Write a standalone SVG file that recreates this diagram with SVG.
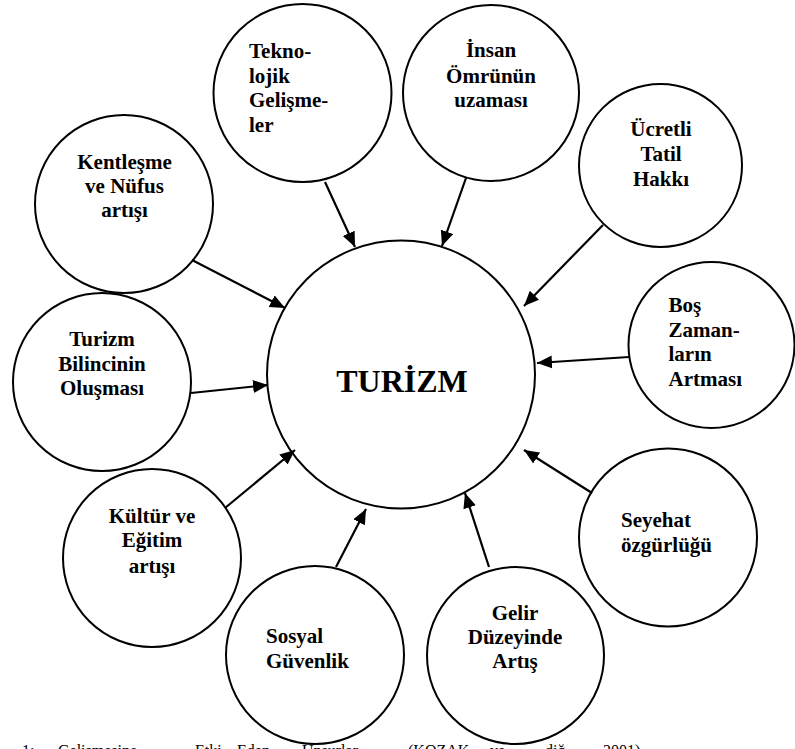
<svg xmlns="http://www.w3.org/2000/svg" width="795" height="749" viewBox="0 0 795 749">
<style>
.c{fill:#fff;stroke:#000;stroke-width:2}
.t{font-family:"Liberation Serif","Times New Roman",serif;font-weight:bold;font-size:21px;fill:#000}
.m{text-anchor:middle}
.e{stroke:#000;stroke-width:2.2;fill:none;marker-end:url(#ah)}
.cap{font-family:"Liberation Serif","Times New Roman",serif;font-size:16px;fill:#000}
</style>
<defs>
<marker id="ah" markerUnits="userSpaceOnUse" markerWidth="16" markerHeight="14" refX="15" refY="6.5" orient="auto">
<path d="M0,0 L15,6.5 L0,13 z" fill="#000"/>
</marker>
</defs>
<rect width="795" height="749" fill="#fff"/>
<g id="turizm"><circle class="c" cx="401" cy="374.5" r="134"/><text class="t m" x="402" y="392" style="font-size:32px">TURİZM</text></g>
<g id="teknoloji"><circle class="c" cx="302.5" cy="93" r="89"/><text class="t" x="249"><tspan x="249" y="58">Tekno-</tspan><tspan x="249" y="83">lojik</tspan><tspan x="249" y="107">Gelişme-</tspan><tspan x="249" y="132">ler</tspan></text></g>
<g id="insan"><circle class="c" cx="491" cy="93" r="88"/><text class="t m"><tspan x="491" y="57">İnsan</tspan><tspan x="491" y="82.5">Ömrünün</tspan><tspan x="491" y="107">uzaması</tspan></text></g>
<g id="ucretli"><circle class="c" cx="660.5" cy="165.5" r="81.5"/><text class="t m"><tspan x="661" y="135.5">Ücretli</tspan><tspan x="661" y="161">Tatil</tspan><tspan x="661" y="186">Hakkı</tspan></text></g>
<g id="bos"><circle class="c" cx="711.5" cy="345" r="83"/><text class="t"><tspan x="668.5" y="311.5">Boş</tspan><tspan x="668.5" y="336.5">Zaman-</tspan><tspan x="668.5" y="361">ların</tspan><tspan x="668.5" y="386">Artması</tspan></text></g>
<g id="seyehat"><circle class="c" cx="668" cy="537.5" r="89"/><text class="t"><tspan x="621" y="527">Seyehat</tspan><tspan x="621" y="551.5">özgürlüğü</tspan></text></g>
<g id="gelir"><circle class="c" cx="515.5" cy="655.5" r="88.5"/><text class="t m"><tspan x="515" y="620">Gelir</tspan><tspan x="515" y="644">Düzeyinde</tspan><tspan x="515" y="668">Artış</tspan></text></g>
<g id="sosyal"><circle class="c" cx="315" cy="655" r="89"/><text class="t"><tspan x="266" y="643">Sosyal</tspan><tspan x="266" y="668">Güvenlik</tspan></text></g>
<g id="kultur"><circle class="c" cx="152" cy="558" r="89"/><text class="t m"><tspan x="152" y="522.5">Kültür ve</tspan><tspan x="152" y="547">Eğitim</tspan><tspan x="152" y="572.5">artışı</tspan></text></g>
<g id="bilinc"><circle class="c" cx="102" cy="382" r="89"/><text class="t m"><tspan x="102" y="346">Turizm</tspan><tspan x="102" y="370.5">Bilincinin</tspan><tspan x="102" y="395">Oluşması</tspan></text></g>
<g id="kentlesme"><circle class="c" cx="124" cy="204" r="89"/><text class="t m"><tspan x="124.5" y="169">Kentleşme</tspan><tspan x="124.5" y="193">ve Nüfus</tspan><tspan x="124.5" y="217">artışı</tspan></text></g>
<g id="connectors">
<line class="e" x1="192" y1="260" x2="285" y2="308"/>
<line class="e" x1="191" y1="393" x2="268" y2="385"/>
<line class="e" x1="325" y1="182" x2="355" y2="247"/>
<line class="e" x1="466" y1="178" x2="442" y2="246"/>
<line class="e" x1="603" y1="225" x2="524" y2="306"/>
<line class="e" x1="629" y1="357" x2="537" y2="363"/>
<line class="e" x1="592" y1="493" x2="524" y2="450"/>
<line class="e" x1="489" y1="567" x2="465" y2="493"/>
<line class="e" x1="336" y1="567" x2="366" y2="509"/>
<line class="e" x1="225" y1="508" x2="295" y2="450"/>
</g>
<text class="cap" y="756"><tspan x="22">1:</tspan><tspan x="58">Gelişmesine</tspan><tspan x="195">Etki</tspan><tspan x="237">Eden</tspan><tspan x="302">Unsurlar</tspan><tspan x="408">(KOZAK</tspan><tspan x="490">ve</tspan><tspan x="545">diğ.,</tspan><tspan x="603">2001)</tspan></text>
</svg>
